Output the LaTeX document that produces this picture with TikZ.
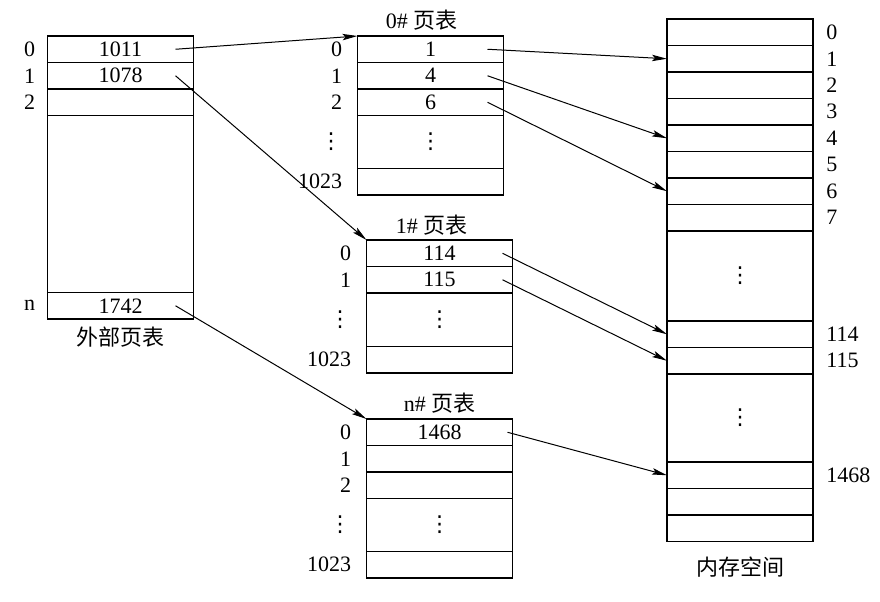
\documentclass[tikz,border=0pt]{standalone}
\usepackage{fontspec}
\setmainfont{Liberation Serif}
\newfontfamily\cjk{Noto Sans CJK SC}
\newfontfamily\symf{DejaVu Sans}
\usetikzlibrary{positioning,arrows.meta}

\newcommand{\vdot}{{\symf ⋮}}

\tikzset{
  cell/.style={draw, line width=0.6pt, outer sep=0pt, inner sep=0pt,
    minimum width=73pt, minimum height=13.25pt, font=\fontsize{11}{13}\selectfont},
  gap/.style={cell, minimum height=#1},
  idx/.style={anchor=east, inner sep=0pt, font=\fontsize{11}{13}\selectfont},
  addr/.style={anchor=west, inner sep=0pt, font=\fontsize{11}{13}\selectfont},
  title/.style={inner sep=0pt, font=\fontsize{11}{13}\selectfont},
  link/.style={-{Stealth[length=7.5pt,width=3.2pt,inset=1.5pt]}, line width=0.5pt}
}

\begin{document}
\begin{tikzpicture}[x=0.5pt,y=-0.5pt]
      \useasboundingbox (0,0) rectangle (880,601);

      \node[cell,anchor=north] (ext0) at (120.5,36) {1011};
      \node[cell,below=0pt of ext0] (ext1) {1078};
      \node[cell,below=0pt of ext1] (ext2) {};
      \node[gap=88.5pt,below=0pt of ext2] (extg) {};
      \node[cell,below=0pt of extg] (extn) {1742};
      \node[idx] (ext0i) at ([xshift=-6pt]ext0.west) {0};
      \node[idx] (ext1i) at ([xshift=-6pt]ext1.west) {1};
      \node[idx] (ext2i) at ([xshift=-6pt]ext2.west) {2};
      \node[idx] (extni) at ([xshift=-6pt]extn.west) {n};
      \node[title,font=\cjk\fontsize{11}{13}\selectfont] (extt) at ([yshift=-9pt]extn.south) {外部页表};

      \node[cell,anchor=north] (pa0) at (430.5,36) {1};
      \node[cell,below=0pt of pa0] (pa1) {4};
      \node[cell,below=0pt of pa1] (pa2) {6};
      \node[gap=26.5pt,below=0pt of pa2] (pag) {\vdot};
      \node[cell,below=0pt of pag] (pal) {};
      \node[idx] (pa0i) at ([xshift=-7.5pt]pa0.west) {0};
      \node[idx] (pa1i) at ([xshift=-7.5pt]pa1.west) {1};
      \node[idx] (pa2i) at ([xshift=-7.5pt]pa2.west) {2};
      \node[idx] (pagi) at ([xshift=-7.5pt]pag.west) {\vdot};
      \node[idx] (pali) at ([xshift=-7.5pt]pal.west) {1023};
      \node[title] (pat) at ([xshift=-4.5pt,yshift=8pt]pa0.north) {0\# {\cjk 页表}};

      \node[cell,anchor=north] (pb0) at (439.5,240) {114};
      \node[cell,below=0pt of pb0] (pb1) {115};
      \node[gap=26.75pt,below=0pt of pb1] (pbg) {\vdot};
      \node[cell,below=0pt of pbg] (pbl) {};
      \node[idx] (pb0i) at ([xshift=-7.5pt]pb0.west) {0};
      \node[idx] (pb1i) at ([xshift=-7.5pt]pb1.west) {1};
      \node[idx] (pbgi) at ([xshift=-7.5pt]pbg.west) {\vdot};
      \node[idx] (pbli) at ([xshift=-7.5pt]pbl.west) {1023};
      \node[title] (pbt) at ([xshift=-4pt,yshift=7.5pt]pb0.north) {1\# {\cjk 页表}};

      \node[cell,anchor=north] (pn0) at (439.5,419) {1468};
      \node[cell,below=0pt of pn0] (pn1) {};
      \node[cell,below=0pt of pn1] (pn2) {};
      \node[gap=26.5pt,below=0pt of pn2] (png) {\vdot};
      \node[cell,below=0pt of png] (pnl) {};
      \node[idx] (pn0i) at ([xshift=-7.5pt]pn0.west) {0};
      \node[idx] (pn1i) at ([xshift=-7.5pt]pn1.west) {1};
      \node[idx] (pn2i) at ([xshift=-7.5pt]pn2.west) {2};
      \node[idx] (pngi) at ([xshift=-7.5pt]png.west) {\vdot};
      \node[idx] (pnli) at ([xshift=-7.5pt]pnl.west) {1023};
      \node[title] (pnt) at ([yshift=8pt]pn0.north) {n\# {\cjk 页表}};

      \node[cell,anchor=north] (mem0) at (740,19) {};
      \foreach \i [evaluate=\i as \j using int(\i-1)] in {1,...,7}
        \node[cell,below=0pt of mem\j] (mem\i) {};
      \node[gap=45pt,below=0pt of mem7] (memga) {\vdot};
      \node[cell,below=0pt of memga] (mem114) {};
      \node[cell,below=0pt of mem114] (mem115) {};
      \node[gap=44pt,below=0pt of mem115] (memgb) {\vdot};
      \node[cell,below=0pt of memgb] (mem1468) {};
      \node[cell,below=0pt of mem1468] (memx) {};
      \node[cell,below=0pt of memx] (memy) {};
      \foreach \i in {0,...,7,114,115,1468}
        \node[addr] (mem\i a) at ([xshift=6.5pt]mem\i.east) {\i};
      \node[title,font=\cjk\fontsize{11}{13}\selectfont] (memt) at ([yshift=-13pt]memy.south) {内存空间};

      \draw[link] ([xshift=-9pt]ext0.east) -- (pa0.north west);
      \draw[link] ([xshift=-9pt]ext1.east) -- (pb0.north west);
      \draw[link] ([xshift=-9pt]extn.east) -- (pn0.north west);
      \draw[link] ([xshift=-8pt]pa0.east) -- (mem1.west);
      \draw[link] ([xshift=-8pt]pa1.east) -- (mem4.west);
      \draw[link] ([xshift=-8pt]pa2.east) -- (mem6.west);
      \draw[link] ([xshift=-5pt]pb0.east) -- (mem114.west);
      \draw[link] ([xshift=-5pt]pb1.east) -- (mem115.west);
      \draw[link] ([xshift=-2.5pt]pn0.east) -- (mem1468.west);
\end{tikzpicture}
\end{document}
